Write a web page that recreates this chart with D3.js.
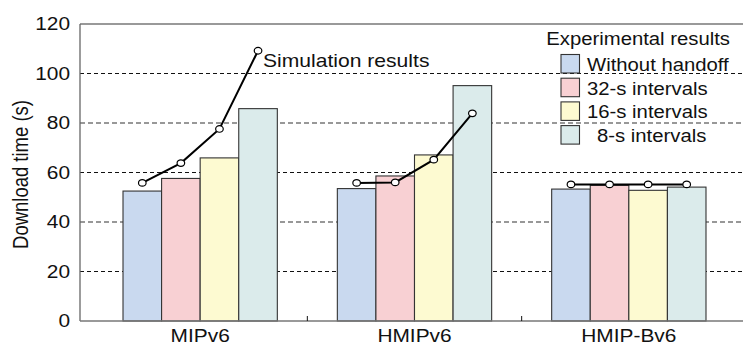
<!DOCTYPE html>
<html>
<head>
<meta charset="utf-8">
<script src="https://cdn.jsdelivr.net/npm/d3@7"></script>
<style>
  body { margin: 0; background: #fff; }
  svg { display: block; font-family: "Liberation Sans", Arial, sans-serif; }
</style>
</head>
<body>
<div id="chart"></div>
<script>
// Chart data
const groups = ["MIPv6", "HMIPv6", "HMIP-Bv6"];
const seriesNames = ["Without handoff", "32-s intervals", "16-s intervals", "8-s intervals"];
const seriesColors = ["#c9d9ef", "#f8d0d3", "#fdfad1", "#dbebeb"];
const experimental = [
    [52.5, 57.6, 65.9, 85.8],
    [53.5, 58.6, 67.1, 95.1],
    [53.3, 54.8, 52.8, 54.1]
];
const simulation = [
    [55.8, 63.8, 77.6, 109.2],
    [55.8, 56.0, 65.2, 83.9],
    [55.2, 55.2, 55.2, 55.2]
];
const yTicks = [0, 20, 40, 60, 80, 100, 120];

const W = 743, H = 348;
const plot = { left: 80, right: 743, top: 24, bottom: 321 };
// the original text looks a bit wide, so stretch it horizontally
const stretch = 1.16;

const svg = d3.select("#chart").append("svg")
    .attr("width", W)
    .attr("height", H);

const y = d3.scaleLinear().domain([0, 120]).range([plot.bottom, plot.top]);
const x = d3.scaleBand().domain(groups).range([93, 736]).paddingInner(0.28).paddingOuter(0.14);
const xs = d3.scaleBand().domain(d3.range(seriesNames.length)).range([0, x.bandwidth()]);

function label(parent, tx, ty, str, size, anchor) {
    return parent.append("text")
        .attr("transform", `translate(${tx},${ty}) scale(${stretch},1)`)
        .attr("text-anchor", anchor || "start")
        .attr("font-size", size)
        .attr("fill", "#111")
        .text(str);
}

// Grid lines (alternating black and gray dashes)
yTicks.filter(t => t > 0 && t < 120).forEach(t => {
    const grey = (t / 20) % 2 === 0;
    svg.append("line")
        .attr("x1", plot.left).attr("x2", plot.right)
        .attr("y1", y(t)).attr("y2", y(t))
        .attr("stroke", grey ? "#777" : "#111")
        .attr("stroke-width", grey ? 1.6 : 1)
        .attr("stroke-dasharray", grey ? "5,3" : "4,3");
});

// Frame: top border and left axis
svg.append("line")
    .attr("x1", plot.left).attr("x2", plot.right)
    .attr("y1", plot.top).attr("y2", plot.top)
    .attr("stroke", "#777").attr("stroke-width", 1.6);
svg.append("line")
    .attr("x1", plot.left).attr("x2", plot.left)
    .attr("y1", plot.top).attr("y2", plot.bottom)
    .attr("stroke", "#666").attr("stroke-width", 1.3);

// Y axis labels
const yAxis = svg.append("g")
    .attr("transform", `translate(${plot.left},0)`)
    .call(d3.axisLeft(y).tickValues(yTicks).tickSize(0).tickPadding(10 / stretch));
yAxis.select(".domain").remove();
yAxis.selectAll("text")
    .attr("font-size", 18)
    .attr("fill", "#111")
    .attr("font-family", "Liberation Sans, Arial, sans-serif")
    .attr("transform", `scale(${stretch},1)`);

svg.append("text")
    .attr("transform", `translate(28,${(plot.top + plot.bottom) / 2 + 2}) rotate(-90) scale(1,${stretch})`)
    .attr("text-anchor", "middle")
    .attr("font-size", 18.5)
    .attr("fill", "#111")
    .text("Download time (s)");

// Bars
const barGroups = svg.selectAll(".grp")
    .data(groups)
    .enter().append("g")
    .attr("class", "grp")
    .attr("transform", d => `translate(${x(d)},0)`);

barGroups.selectAll("rect")
    .data((d, i) => experimental[i].map((v, j) => ({ v, j })))
    .enter().append("rect")
    .attr("x", d => xs(d.j))
    .attr("y", d => y(d.v))
    .attr("width", xs.bandwidth())
    .attr("height", d => y(0) - y(d.v))
    .attr("fill", d => seriesColors[d.j])
    .attr("stroke", "#333")
    .attr("stroke-width", 1.1);

// X axis
svg.append("line")
    .attr("x1", plot.left).attr("x2", plot.right)
    .attr("y1", plot.bottom).attr("y2", plot.bottom)
    .attr("stroke", "#777").attr("stroke-width", 1.6);

// Small separators between groups
const step = x.step();
groups.slice(0, -1).forEach(g => {
    const sx = x(g) + x.bandwidth() / 2 + step / 2;
    svg.append("line")
        .attr("x1", sx).attr("x2", sx)
        .attr("y1", plot.bottom - 5).attr("y2", plot.bottom)
        .attr("stroke", "#111").attr("stroke-width", 1);
});

const xAxis = svg.append("g")
    .attr("transform", `translate(0,${plot.bottom})`)
    .call(d3.axisBottom(x).tickSize(0).tickPadding(8));
xAxis.select(".domain").remove();
xAxis.selectAll("text")
    .attr("font-size", 18)
    .attr("fill", "#111")
    .attr("font-family", "Liberation Sans, Arial, sans-serif")
    .attr("transform", `scale(${stretch},1)`);

// Simulation lines
const line = d3.line()
    .x(d => d.x)
    .y(d => y(d.v));

simulation.forEach((vals, i) => {
    const pts = vals.map((v, j) => ({ x: x(groups[i]) + xs(j) + xs.bandwidth() / 2, v }));
    svg.append("path")
        .datum(pts)
        .attr("d", line)
        .attr("fill", "none")
        .attr("stroke", "#000")
        .attr("stroke-width", 2);
    svg.selectAll(null)
        .data(pts)
        .enter().append("ellipse")
        .attr("cx", d => d.x)
        .attr("cy", d => y(d.v))
        .attr("rx", 3.8)
        .attr("ry", 3.3)
        .attr("fill", "#fff")
        .attr("stroke", "#000")
        .attr("stroke-width", 1.2);
});

label(svg, 263, 67, "Simulation results", 18.2);

// Legend
const legend = svg.append("g");
label(legend, 730, 45, "Experimental results", 17.5, "end");

const item = legend.selectAll(".item")
    .data(seriesNames)
    .enter().append("g")
    .attr("class", "item")
    .attr("transform", (d, i) => `translate(561,${54.5 + i * 23.7})`);

item.append("rect")
    .attr("width", 18.5)
    .attr("height", 18.5)
    .attr("fill", (d, i) => seriesColors[i])
    .attr("stroke", "#333")
    .attr("stroke-width", 1.1);

item.each(function (d, i) {
    label(d3.select(this), i === 3 ? 36 : 26, 16.5, d, 17.5);
});
</script>
</body>
</html>
